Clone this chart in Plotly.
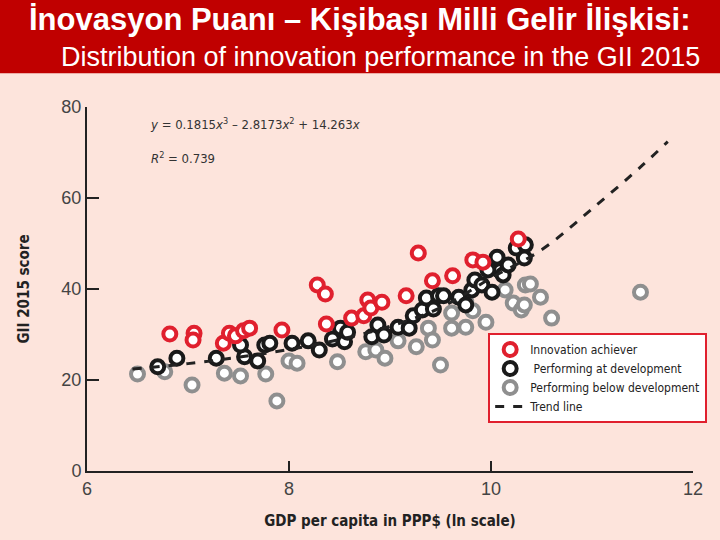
import plotly.graph_objects as go

# innovation achievers (red)
red_x = [6.82, 7.06, 7.05, 7.35, 7.41, 7.47, 7.55, 7.61, 7.93, 8.28, 8.36, 8.37, 8.62, 8.74, 8.78, 8.81, 8.92,
         9.28, 9.16, 9.42, 9.62, 9.82, 9.92, 10.27]
red_y = [30.1, 30.3, 28.8, 28.1, 30.3, 29.7, 30.8, 31.4, 31.0, 40.9, 38.9, 32.3, 33.6, 34.1, 37.6, 35.8, 37.1,
         47.9, 38.5, 41.8, 42.9, 46.4, 45.9, 51.0]

# performing at development (black)
blk_x = [6.70, 6.89, 7.28, 7.56, 7.52, 7.69, 7.76, 7.81, 8.03, 8.19, 8.30, 8.43, 8.51, 8.55, 8.58, 8.82, 8.88,
         8.94, 9.08, 9.19, 9.23, 9.32, 9.36, 9.43, 9.48, 9.53, 9.68, 9.75, 9.81, 9.84, 9.91, 10.06, 10.01, 10.09,
         10.12, 10.17, 10.25, 10.34, 10.33, 9.97]
blk_y = [22.9, 24.8, 24.8, 25.1, 27.7, 24.2, 27.7, 28.1, 28.1, 28.6, 26.6, 29.0, 31.4, 28.4, 30.5, 29.5, 32.1,
         29.9, 31.6, 31.4, 34.1, 35.4, 38.0, 35.6, 38.5, 38.5, 38.2, 36.5, 39.8, 42.0, 40.9, 47.0, 39.3, 44.0,
         43.1, 45.3, 49.0, 49.7, 46.8, 44.2]

# performing below development (gray)
gry_x = [6.50, 6.77, 7.04, 7.36, 7.52, 7.77, 7.88, 8.00, 8.08, 8.48, 8.76, 8.86, 8.95, 9.08, 9.26, 9.38, 9.42,
         9.50, 9.61, 9.75, 9.61, 9.75, 9.95, 9.82, 10.22, 10.30, 10.34, 10.39, 10.49, 10.60, 11.48, 10.14, 10.33]
gry_y = [21.3, 21.8, 18.9, 21.5, 20.9, 21.3, 15.4, 24.2, 23.7, 24.0, 26.2, 26.6, 24.8, 28.6, 27.3, 31.4, 28.8,
         23.3, 31.4, 31.6, 34.7, 37.4, 32.7, 35.2, 36.9, 35.4, 40.9, 41.1, 38.2, 33.6, 39.3, 39.8, 36.5]

# trend line
trend_x = [6.45, 7.0, 7.5, 8.0, 8.5, 9.0, 9.5, 10.0, 10.5, 11.0, 11.5, 11.75]
trend_y = [22.4, 23.6, 25.0, 26.7, 28.9, 31.8, 35.9, 42.4, 48.6, 57.6, 67.2, 72.4]

fig = go.Figure()
fig.add_trace(go.Scatter(x=gry_x, y=gry_y, mode="markers", name="Performing below development", legendrank=3,
                         marker=dict(size=13, color="white", line=dict(color="#8f8f8f", width=4))))
fig.add_trace(go.Scatter(x=blk_x, y=blk_y, mode="markers", name=" Performing at development", legendrank=2,
                         marker=dict(size=13, color="white", line=dict(color="#1a1a1a", width=4))))
fig.add_trace(go.Scatter(x=red_x, y=red_y, mode="markers", name="Innovation achiever", legendrank=1,
                         marker=dict(size=13, color="white", line=dict(color="#e0202e", width=4))))
fig.add_trace(go.Scatter(x=trend_x, y=trend_y, mode="lines", name="Trend line", legendrank=4, line_shape="spline",
                         line=dict(color="#222", width=3, dash="dash")))

# red header bar
fig.add_shape(type="rect", xref="paper", yref="paper", x0=-0.15, x1=1.05, y0=1.093, y1=1.32,
              fillcolor="#c00000", line_width=0, layer="below")
fig.add_annotation(text="<b>İnovasyon Puanı – Kişibaşı Milli Gelir İlişkisi:</b>", xref="paper", yref="paper",
                   x=0.45, y=1.295, showarrow=False, font=dict(family="Liberation Sans", size=31, color="white"))
fig.add_annotation(text="Distribution of innovation performance in the GII 2015", xref="paper", yref="paper",
                   x=0.485, y=1.183, showarrow=False, font=dict(family="Liberation Sans", size=27, color="white"))
fig.add_annotation(text="<i>y</i> = 0.1815<i>x</i><sup>3</sup> – 2.8173<i>x</i><sup>2</sup> + 14.263<i>x</i><br><br><i>R</i><sup>2</sup> = 0.739",
                   xref="paper", yref="paper", x=0.1, y=0.98, xanchor="left", yanchor="top", align="left",
                   showarrow=False, font=dict(family="DejaVu Sans Condensed", size=13, color="#333"))

fig.update_layout(
    width=720, height=540,
    margin=dict(l=87, r=27, t=107, b=69, autoexpand=False),
    paper_bgcolor="#fde4dc", plot_bgcolor="#fde4dc",
    font=dict(family="DejaVu Sans Condensed", color="#333"),
    legend=dict(x=0.662, y=0.379, xanchor="left", yanchor="top", bgcolor="white", bordercolor="#e0202e",
                borderwidth=2, font=dict(size=12, color="#222"), itemwidth=30, tracegroupgap=4),
    xaxis=dict(range=[6, 12], tickvals=[6, 8, 10, 12], showgrid=False, zeroline=False, showline=True,
               automargin=False,
               linecolor="#222", linewidth=2, ticks="inside", ticklen=10, tickcolor="#222", tickwidth=2,
               tickfont=dict(size=18, family="Liberation Sans", color="#444"),
               title=dict(text="<b>GDP per capita in PPP$ (ln scale)</b>", font=dict(size=15, color="#222"), standoff=18)),
    yaxis=dict(range=[0, 80], tickvals=[0, 20, 40, 60, 80], showgrid=False, zeroline=False, showline=True,
               automargin=False,
               linecolor="#222", linewidth=2, ticks="inside", ticklen=12, tickcolor="#222", tickwidth=2,
               tickfont=dict(size=18, family="Liberation Sans", color="#444"),
               title=dict(text="<b>GII 2015 score</b>", font=dict(size=15, color="#222"), standoff=28)),
)

fig.write_html("out.html", config={"displayModeBar": False},
               post_script="document.body.style.margin='0';")
